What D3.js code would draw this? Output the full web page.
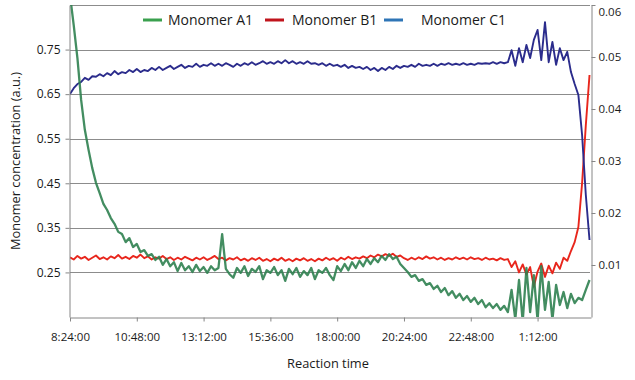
<!DOCTYPE html>
<html>
<head>
<meta charset="utf-8">
<script src="https://cdn.jsdelivr.net/npm/d3@7"></script>
<style>
  body { margin: 0; background: #fff; }
  svg text { font-family: "Open Sans", sans-serif; fill: #1a1a1a; }
  .axis path, .axis line { stroke: #868686; }
  .grid line { stroke: #8c8c8c; }
</style>
</head>
<body>
<div class="container"></div>
<script>
// Chart data
const seriesNames = ['Monomer A1', 'Monomer B1', 'Monomer C1'];
const startTime = '8:24:00';
const stepMinutes = 8; // logging interval

// Monomer A1 (left axis)
const monomerA1 = [
  0.872, 0.805, 0.731, 0.637, 0.570, 0.525, 0.484, 0.451, 0.428, 0.404,
  0.390, 0.372, 0.359, 0.341, 0.336, 0.318, 0.327, 0.307, 0.314, 0.296,
  0.300, 0.287, 0.291, 0.278, 0.285, 0.267, 0.280, 0.264, 0.273, 0.253,
  0.271, 0.255, 0.264, 0.251, 0.267, 0.253, 0.262, 0.249, 0.264, 0.255,
  0.260, 0.336, 0.258, 0.246, 0.238, 0.260, 0.249, 0.264, 0.242, 0.258,
  0.251, 0.264, 0.235, 0.255, 0.249, 0.262, 0.244, 0.255, 0.231, 0.258,
  0.246, 0.260, 0.240, 0.253, 0.244, 0.260, 0.235, 0.255, 0.249, 0.260,
  0.244, 0.233, 0.264, 0.253, 0.269, 0.255, 0.273, 0.260, 0.276, 0.264,
  0.280, 0.269, 0.282, 0.273, 0.287, 0.278, 0.291, 0.280, 0.285, 0.269,
  0.260, 0.251, 0.240, 0.244, 0.231, 0.235, 0.222, 0.226, 0.213, 0.220,
  0.206, 0.215, 0.199, 0.208, 0.193, 0.202, 0.188, 0.197, 0.184, 0.193,
  0.179, 0.188, 0.172, 0.181, 0.170, 0.179, 0.166, 0.175, 0.161, 0.211,
  0.145, 0.233, 0.140, 0.260, 0.161, 0.244, 0.142, 0.264, 0.166, 0.229,
  0.144, 0.222, 0.177, 0.206, 0.170, 0.202, 0.181, 0.193, 0.188, 0.211,
  0.233
];

// Monomer B1 (left axis)
const monomerB1 = [
  0.284, 0.279, 0.287, 0.281, 0.285, 0.278, 0.283, 0.288, 0.280, 0.284,
  0.279, 0.286, 0.282, 0.289, 0.281, 0.285, 0.280, 0.287, 0.283, 0.290,
  0.282, 0.286, 0.279, 0.284, 0.281, 0.287, 0.280, 0.284, 0.278, 0.283,
  0.279, 0.285, 0.281, 0.277, 0.283, 0.279, 0.284, 0.278, 0.282, 0.287,
  0.280, 0.283, 0.277, 0.282, 0.279, 0.284, 0.277, 0.281, 0.276, 0.282,
  0.278, 0.283, 0.276, 0.280, 0.275, 0.281, 0.277, 0.283, 0.276, 0.280,
  0.275, 0.281, 0.277, 0.282, 0.276, 0.280, 0.275, 0.281, 0.277, 0.283,
  0.278, 0.282, 0.276, 0.283, 0.279, 0.285, 0.280, 0.284, 0.281, 0.286,
  0.282, 0.288, 0.284, 0.290, 0.286, 0.291, 0.287, 0.292, 0.285, 0.288,
  0.282, 0.278, 0.283, 0.279, 0.284, 0.280, 0.286, 0.281, 0.284, 0.279,
  0.283, 0.278, 0.282, 0.279, 0.284, 0.280, 0.283, 0.279, 0.284, 0.280,
  0.282, 0.278, 0.283, 0.279, 0.281, 0.277, 0.282, 0.278, 0.280, 0.262,
  0.275, 0.250, 0.268, 0.245, 0.262, 0.218, 0.252, 0.270, 0.240, 0.265,
  0.248, 0.272, 0.258, 0.283, 0.276, 0.298, 0.318, 0.352, 0.450, 0.580,
  0.693
];

// Monomer C1 (right axis)
const monomerC1 = [
  0.0429, 0.0440, 0.0448, 0.0452, 0.0460, 0.0456, 0.0463, 0.0462, 0.0467, 0.0463,
  0.0469, 0.0465, 0.0473, 0.0467, 0.0471, 0.0469, 0.0475, 0.0471, 0.0477, 0.0471,
  0.0475, 0.0473, 0.0479, 0.0475, 0.0481, 0.0475, 0.0479, 0.0483, 0.0477, 0.0481,
  0.0485, 0.0479, 0.0483, 0.0481, 0.0487, 0.0481, 0.0485, 0.0483, 0.0488, 0.0483,
  0.0487, 0.0483, 0.0488, 0.0485, 0.0481, 0.0487, 0.0483, 0.0488, 0.0485, 0.0490,
  0.0485, 0.0488, 0.0492, 0.0487, 0.0490, 0.0487, 0.0492, 0.0488, 0.0494, 0.0488,
  0.0492, 0.0487, 0.0490, 0.0487, 0.0492, 0.0487, 0.0488, 0.0485, 0.0488, 0.0483,
  0.0487, 0.0483, 0.0485, 0.0481, 0.0485, 0.0479, 0.0483, 0.0479, 0.0481, 0.0477,
  0.0481, 0.0475, 0.0479, 0.0473, 0.0479, 0.0475, 0.0481, 0.0477, 0.0483, 0.0479,
  0.0483, 0.0481, 0.0485, 0.0481, 0.0487, 0.0483, 0.0485, 0.0483, 0.0487, 0.0483,
  0.0487, 0.0485, 0.0488, 0.0485, 0.0487, 0.0485, 0.0488, 0.0485, 0.0487, 0.0485,
  0.0488, 0.0487, 0.0488, 0.0487, 0.0490, 0.0487, 0.0490, 0.0488, 0.0490, 0.0513,
  0.0483, 0.0517, 0.0490, 0.0523, 0.0498, 0.0533, 0.0552, 0.0494, 0.0567, 0.0490,
  0.0529, 0.0485, 0.0517, 0.0494, 0.0510, 0.0471, 0.0448, 0.0427, 0.0350, 0.0235,
  0.0148
];

const xTickLabels = ['8:24:00', '10:48:00', '13:12:00', '15:36:00', '18:00:00', '20:24:00', '22:48:00', '1:12:00'];
const leftTicks = [0.25, 0.35, 0.45, 0.55, 0.65, 0.75];
const rightTicks = [0.01, 0.02, 0.03, 0.04, 0.05, 0.06];

// Layout
const width = 635;
const height = 380;
const plot = { left: 70, right: 591, top: 5, bottom: 317 };
const colors = { a1: '#2f8150', b1: '#e8261c', c1: '#2b2c8c' };
const legendColors = ['#3aa04e', '#c0141c', '#2e75b6'];

// Time helpers: times are kept as fractions of a day
function parseClock(s) {
  const p = s.split(':').map(Number);
  return (p[0] * 3600 + p[1] * 60 + p[2]) / 86400;
}
function formatClock(t) {
  let secs = Math.round(t * 86400) % 86400;
  const h = Math.floor(secs / 3600);
  const m = Math.floor((secs % 3600) / 60);
  const s = secs % 60;
  return h + ':' + String(m).padStart(2, '0') + ':' + String(s).padStart(2, '0');
}

const t0 = parseClock(startTime);
const times = monomerA1.map((d, i) => t0 + (i * stepMinutes) / 1440);

// x tick positions: labels after midnight roll over to the next day
let xTickValues = xTickLabels.map((s) => {
  let t = parseClock(s);
  if (t < t0) t += 1;
  return t;
});

const svg = d3.select('.container')
  .append('svg')
  .attr('width', width)
  .attr('height', height);

const xScale = d3.scaleLinear().domain([t0, 1.13]).range([plot.left, plot.right]);
const yLeft = d3.scaleLinear().domain([0.15, 0.85]).range([plot.bottom, plot.top]);
const yRight = d3.scaleLinear().domain([0, 0.06]).range([plot.bottom, plot.top]);

// Gridlines on the left axis values, plus the top border
svg.append('g')
  .attr('class', 'grid')
  .selectAll('line')
  .data(leftTicks.concat([0.85]))
  .enter()
  .append('line')
  .attr('x1', plot.left)
  .attr('x2', plot.right - 1)
  .attr('y1', (d) => Math.round(yLeft(d)) + 0.5)
  .attr('y2', (d) => Math.round(yLeft(d)) + 0.5)
  .attr('stroke-width', 1.2);

// Clip the lines to the plot area
svg.append('clipPath')
  .attr('id', 'plot-clip')
  .append('rect')
  .attr('x', plot.left)
  .attr('y', plot.top)
  .attr('width', plot.right - plot.left)
  .attr('height', plot.bottom - plot.top);

const lines = svg.append('g').attr('clip-path', 'url(#plot-clip)');

const lineLeft = d3.line()
  .x((d, i) => xScale(times[i]))
  .y((d) => yLeft(d));
const lineRight = d3.line()
  .x((d, i) => xScale(times[i]))
  .y((d) => yRight(d));

lines.append('path')
  .datum(monomerB1)
  .attr('d', lineLeft)
  .attr('fill', 'none')
  .attr('stroke', colors.b1)
  .attr('stroke-width', 1.9)
  .attr('stroke-linejoin', 'round');

lines.append('path')
  .datum(monomerC1)
  .attr('d', lineRight)
  .attr('fill', 'none')
  .attr('stroke', colors.c1)
  .attr('stroke-width', 1.9)
  .attr('stroke-linejoin', 'round');

lines.append('path')
  .datum(monomerA1)
  .attr('d', lineLeft)
  .attr('fill', 'none')
  .attr('stroke', colors.a1)
  .attr('stroke-opacity', 0.9)
  .attr('stroke-width', 2.3)
  .attr('stroke-linejoin', 'round');

// Axes
const xAxis = d3.axisBottom(xScale)
  .tickValues(xTickValues)
  .tickFormat(formatClock)
  .tickSize(4)
  .tickSizeOuter(0)
  .tickPadding(11);

svg.append('g')
  .attr('class', 'axis')
  .attr('transform', 'translate(0,' + (plot.bottom + 0.5) + ')')
  .call(xAxis)
  .call((g) => g.selectAll('text').style('font-size', '11.5px'));

svg.append('g')
  .attr('class', 'axis')
  .attr('transform', 'translate(' + (plot.left - 0.5) + ',0)')
  .call(d3.axisLeft(yLeft).tickValues(leftTicks).tickFormat(d3.format('.2f')).tickSize(4).tickSizeOuter(0).tickPadding(5))
  .call((g) => g.selectAll('text').style('font-size', '12px'));

svg.append('g')
  .attr('class', 'axis')
  .attr('transform', 'translate(' + (plot.right + 0.5) + ',0)')
  .call(d3.axisRight(yRight).tickValues(rightTicks).tickFormat(d3.format('.2f')).tickSize(4).tickSizeOuter(0).tickPadding(3))
  .call((g) => g.selectAll('text').style('font-size', '11.5px'))
  // the top label sits a little lower so it stays inside the chart
  .call((g) => g.selectAll('.tick').filter((d) => d === 0.06).select('text').attr('y', 7));

svg.selectAll('.axis .domain').attr('stroke', '#868686');

// Axis titles
svg.append('text')
  .text('Monomer concentration (a.u.)')
  .attr('transform', 'rotate(-90)')
  .attr('x', -161)
  .attr('y', 20)
  .attr('text-anchor', 'middle')
  .style('font-size', '12.8px');

svg.append('text')
  .text('Reaction time')
  .attr('x', 328)
  .attr('y', 368)
  .attr('text-anchor', 'middle')
  .style('font-size', '12.8px');

// Legend
const legendLineX = [143, 265, 384];
const legendTextX = [168, 292, 421];
const legend = svg.append('g');
seriesNames.forEach((name, i) => {
  legend.append('line')
    .attr('x1', legendLineX[i])
    .attr('x2', legendLineX[i] + 19)
    .attr('y1', 20)
    .attr('y2', 20)
    .attr('stroke', legendColors[i])
    .attr('stroke-width', 3);
  legend.append('text')
    .text(name)
    .attr('x', legendTextX[i])
    .attr('y', 25)
    .style('font-size', '14px');
});
</script>
</body>
</html>
